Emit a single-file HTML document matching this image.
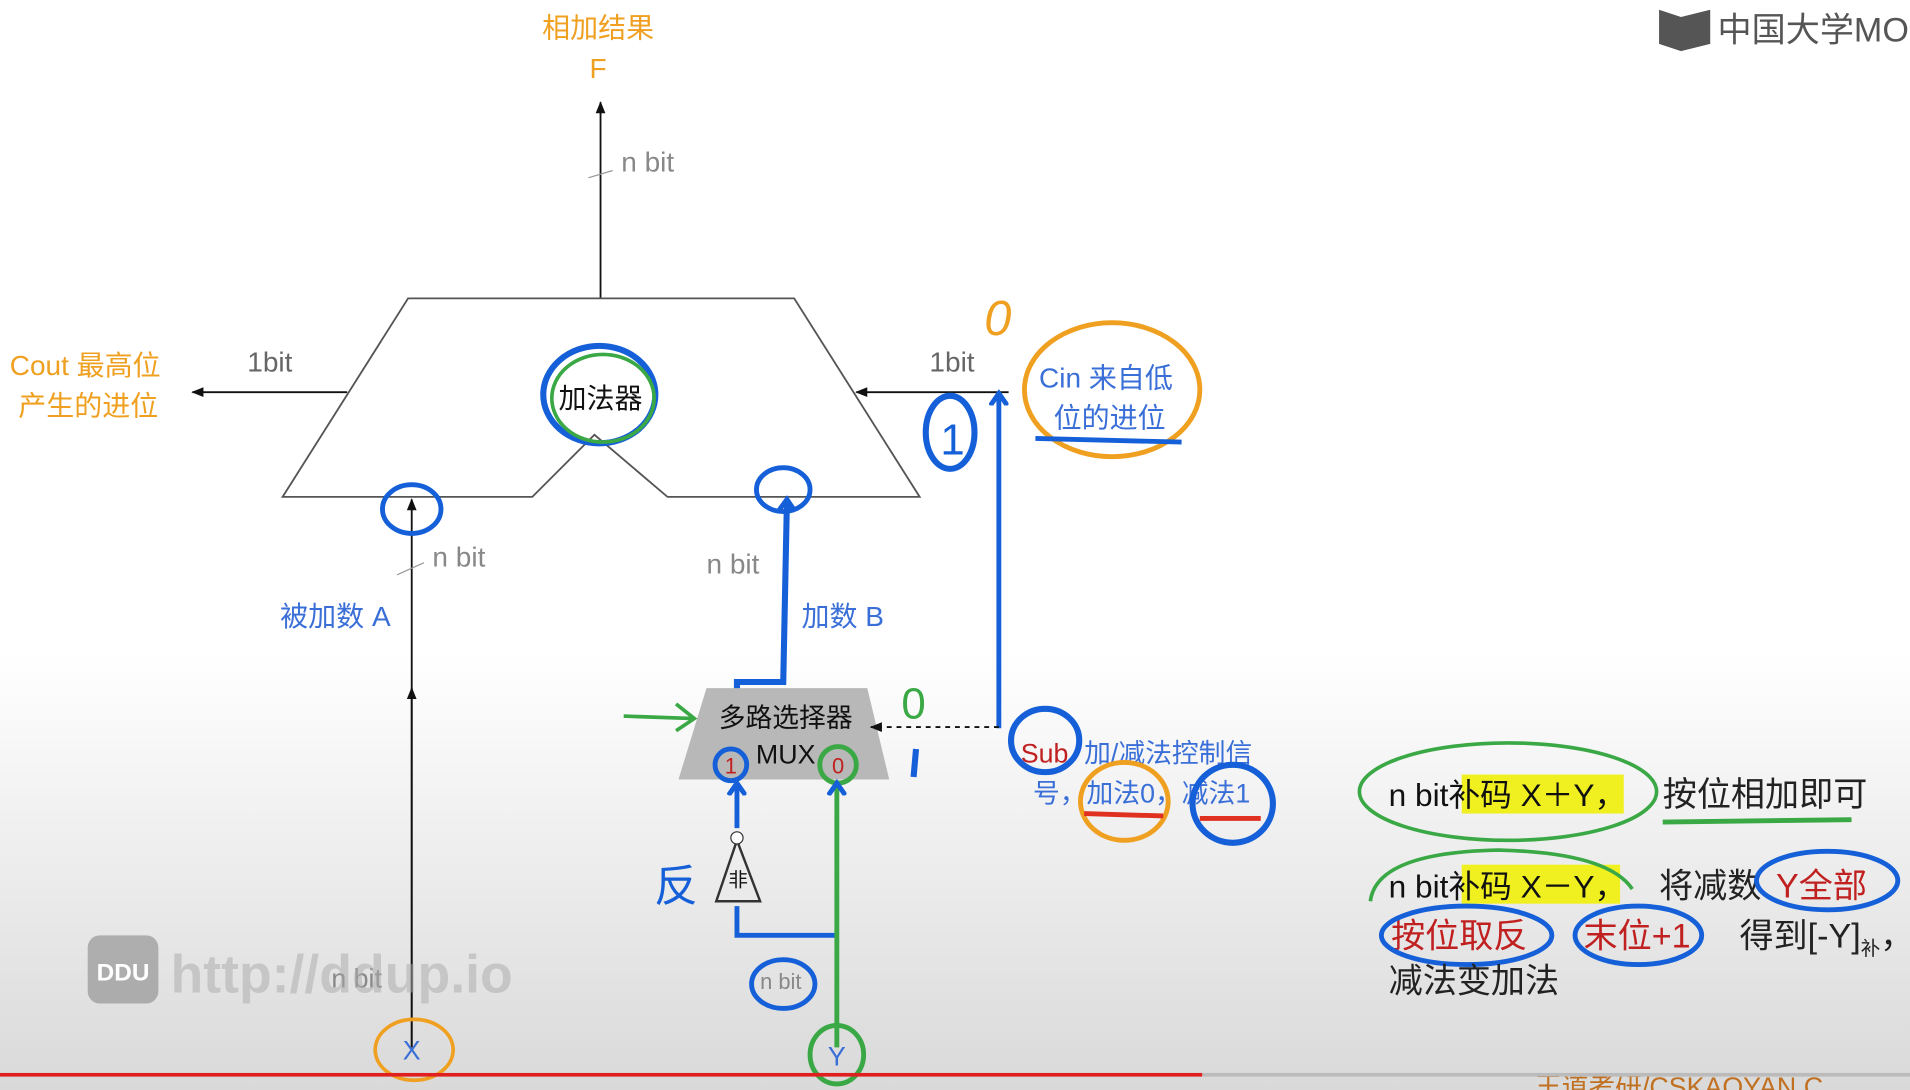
<!DOCTYPE html>
<html><head><meta charset="utf-8"><style>
html,body{margin:0;padding:0;width:1910px;height:1090px;overflow:hidden;background:#fff}
svg{display:block}
text{font-family:"Liberation Sans","Noto Sans CJK SC",sans-serif}
</style></head><body>
<svg width="1910" height="1090" viewBox="0 0 1568 895" preserveAspectRatio="none">
<defs>
<linearGradient id="bg" x1="0" y1="0" x2="0" y2="1">
<stop offset="0" stop-color="#fff"/><stop offset="0.6" stop-color="#fff"/><stop offset="0.8" stop-color="#ececec"/><stop offset="1" stop-color="#d9d9d9"/></linearGradient>
<marker id="ah" markerWidth="10" markerHeight="10" refX="9" refY="5" orient="auto" markerUnits="userSpaceOnUse"><path d="M0,1 L10,5 L0,9 Z" fill="#111"/></marker>
<marker id="ab" markerWidth="16" markerHeight="16" refX="8" refY="8" orient="auto" markerUnits="userSpaceOnUse"><path d="M0,1 L10,8 L0,15" fill="none" stroke="#1560d8" stroke-width="4"/></marker>
</defs>
<rect width="1568" height="895" fill="url(#bg)"/>
<!-- logo -->
<path d="M1362,8 L1380,14 L1404,8 L1404,36 L1380,42 L1362,36 Z" fill="#555"/>
<text x="1410" y="34" font-size="28" fill="#555">中国大学MO</text>
<!-- top -->
<text x="491" y="31" font-size="23" fill="#f0a020" text-anchor="middle">相加结果</text>
<text x="491" y="64" font-size="23" fill="#f0a020" text-anchor="middle">F</text>
<line x1="493" y1="245" x2="493" y2="84" stroke="#111" stroke-width="1.5" marker-end="url(#ah)"/>
<line x1="483" y1="146" x2="503" y2="140" stroke="#999"/>
<text x="510" y="141" font-size="23" fill="#888">n bit</text>
<!-- adder -->
<polygon points="335,245 652,245 755,408 548,408 488,357 437,408 232,408" fill="none" stroke="#555" stroke-width="1.5"/>
<text x="493" y="335" font-size="23" fill="#111" text-anchor="middle">加法器</text>
<ellipse cx="492" cy="324" rx="46" ry="40" fill="none" stroke="#1560d8" stroke-width="5"/>
<ellipse cx="495" cy="327" rx="42" ry="36" fill="none" stroke="#3aa845" stroke-width="3"/>
<!-- cout -->
<line x1="285" y1="322" x2="158" y2="322" stroke="#111" stroke-width="1.5" marker-end="url(#ah)"/>
<text x="203" y="305" font-size="23" fill="#666">1bit</text>
<text x="8" y="308" font-size="23" fill="#f0a020">Cout 最高位</text>
<text x="15" y="341" font-size="23" fill="#f0a020">产生的进位</text>
<!-- cin -->
<line x1="828" y1="322" x2="703" y2="322" stroke="#111" stroke-width="1.5" marker-end="url(#ah)"/>
<text x="763" y="305" font-size="23" fill="#666">1bit</text>
<text x="853" y="318" font-size="23" fill="#3a6fd8">Cin 来自低</text>
<text x="865" y="351" font-size="23" fill="#3a6fd8">位的进位</text>
<ellipse cx="913" cy="320" rx="72" ry="55" fill="none" stroke="#f0a020" stroke-width="4"/>
<line x1="850" y1="360" x2="970" y2="363" stroke="#1560d8" stroke-width="4"/>
<text x="808" y="275" font-size="40" fill="#f0a020" font-style="italic">0</text>
<ellipse cx="780" cy="355" rx="20" ry="30" fill="none" stroke="#1560d8" stroke-width="5"/>
<text x="772" y="373" font-size="36" fill="#1560d8">1</text>
<line x1="820" y1="598" x2="820" y2="325" stroke="#1560d8" stroke-width="4" marker-end="url(#ab)"/>
<!-- A -->
<line x1="338" y1="860" x2="338" y2="410" stroke="#111" stroke-width="1.5" marker-end="url(#ah)"/>
<line x1="338" y1="860" x2="338" y2="565" stroke="#111" stroke-width="1.5" marker-end="url(#ah)"/>
<ellipse cx="338" cy="418" rx="24" ry="20" fill="none" stroke="#1560d8" stroke-width="4"/>
<line x1="326" y1="472" x2="348" y2="462" stroke="#999"/>
<text x="355" y="465" font-size="23" fill="#888">n bit</text>
<text x="230" y="514" font-size="23" fill="#3a6fd8">被加数 A</text>
<text x="272" y="811" font-size="22" fill="#888">n bit</text>
<ellipse cx="340" cy="862" rx="32" ry="25" fill="none" stroke="#f0a020" stroke-width="3"/>
<text x="338" y="870" font-size="22" fill="#3a6fd8" text-anchor="middle">X</text>
<!-- B -->
<polyline points="605,612 605,560 643,560 646,412" fill="none" stroke="#1560d8" stroke-width="5" marker-end="url(#ab)"/>
<ellipse cx="643" cy="402" rx="22" ry="18" fill="none" stroke="#1560d8" stroke-width="4"/>
<text x="580" y="471" font-size="23" fill="#888">n bit</text>
<text x="658" y="514" font-size="23" fill="#3a6fd8">加数 B</text>
<!-- MUX -->
<polygon points="580,565 712,565 730,640 557,640" fill="#b8b8b8"/>
<text x="645" y="597" font-size="22" fill="#111" text-anchor="middle">多路选择器</text>
<text x="645" y="627" font-size="22" fill="#111" text-anchor="middle">MUX</text>
<circle cx="600" cy="628" r="13" fill="none" stroke="#1560d8" stroke-width="4"/>
<text x="600" y="635" font-size="18" fill="#c02020" text-anchor="middle">1</text>
<circle cx="688" cy="628" r="15" fill="none" stroke="#3aa845" stroke-width="4"/>
<text x="688" y="635" font-size="18" fill="#c02020" text-anchor="middle">0</text>
<line x1="512" y1="588" x2="570" y2="590" stroke="#3aa845" stroke-width="3"/>
<path d="M555,578 L570,590 L555,600" fill="none" stroke="#3aa845" stroke-width="3"/>
<line x1="820" y1="597" x2="715" y2="597" stroke="#111" stroke-width="1.5" stroke-dasharray="4,4" marker-end="url(#ah)"/>
<text x="740" y="590" font-size="36" fill="#3aa845">0</text>
<line x1="752" y1="615" x2="750" y2="638" stroke="#1560d8" stroke-width="5"/>
<!-- sub -->
<ellipse cx="858" cy="608" rx="28" ry="26" fill="none" stroke="#1560d8" stroke-width="5"/>
<text x="838" y="626" font-size="22" fill="#c02020">Sub</text>
<text x="890" y="626" font-size="22" fill="#3a6fd8">加/减法控制信</text>
<text x="848" y="659" font-size="22" fill="#3a6fd8">号，加法0，减法1</text>
<ellipse cx="923" cy="658" rx="36" ry="32" fill="none" stroke="#f0a020" stroke-width="4"/>
<ellipse cx="1012" cy="660" rx="33" ry="32" fill="none" stroke="#1560d8" stroke-width="5"/>
<line x1="890" y1="668" x2="955" y2="670" stroke="#e03020" stroke-width="4"/>
<line x1="985" y1="672" x2="1035" y2="672" stroke="#e03020" stroke-width="4"/>
<!-- NOT and Y -->
<polygon points="605,690 588,740 624,740" fill="none" stroke="#333" stroke-width="2"/>
<circle cx="605" cy="688" r="5" fill="#fff" stroke="#333"/>
<text x="606" y="728" font-size="16" fill="#111" text-anchor="middle">非</text>
<polyline points="687,768 605,768 605,744" fill="none" stroke="#1560d8" stroke-width="4"/>
<line x1="605" y1="680" x2="605" y2="645" stroke="#1560d8" stroke-width="4" marker-end="url(#ab)"/>
<line x1="687" y1="860" x2="687" y2="645" stroke="#3aa845" stroke-width="4" marker-end="url(#ab)"/>
<text x="537" y="740" font-size="36" fill="#1560d8">反</text>
<ellipse cx="643" cy="808" rx="26" ry="20" fill="none" stroke="#1560d8" stroke-width="4"/>
<text x="624" y="812" font-size="18" fill="#888">n bit</text>
<ellipse cx="687" cy="866" rx="22" ry="24" fill="none" stroke="#3aa845" stroke-width="4"/>
<text x="687" y="875" font-size="22" fill="#3a6fd8" text-anchor="middle">Y</text>
<!-- watermark -->
<rect x="72" y="768" width="58" height="56" rx="10" fill="#888" opacity="0.6"/>
<text x="101" y="805" font-size="20" fill="#fff" text-anchor="middle" font-weight="bold">DDU</text>
<text x="140" y="815" font-size="44" fill="#aaa" opacity="0.5" font-weight="bold">http://ddup.io</text>
<!-- right notes -->
<rect x="1200" y="636" width="133" height="32" fill="#f0f020"/>
<text x="1140" y="662" font-size="26" fill="#111">n bit补码 X＋Y，</text>
<text x="1365" y="662" font-size="28" fill="#222" font-family="Noto Serif CJK SC, serif">按位相加即可</text>
<ellipse cx="1238" cy="650" rx="122" ry="40" fill="none" stroke="#3aa845" stroke-width="3"/>
<line x1="1365" y1="675" x2="1520" y2="673" stroke="#3aa845" stroke-width="4"/>
<rect x="1200" y="710" width="130" height="32" fill="#f0f020"/>
<text x="1140" y="737" font-size="26" fill="#111">n bit补码 X－Y，</text>
<text x="1362" y="737" font-size="28" fill="#222" font-family="Noto Serif CJK SC, serif">将减数</text>
<text x="1458" y="737" font-size="28" fill="#c02020" font-family="Noto Serif CJK SC, serif">Y全部</text>
<ellipse cx="1500" cy="723" rx="58" ry="24" fill="none" stroke="#1560d8" stroke-width="4"/>
<path d="M1125,740 Q1130,700 1230,698 Q1320,700 1340,730" fill="none" stroke="#3aa845" stroke-width="3"/>
<text x="1142" y="778" font-size="28" fill="#c02020" font-family="Noto Serif CJK SC, serif">按位取反</text>
<ellipse cx="1204" cy="768" rx="70" ry="24" fill="none" stroke="#1560d8" stroke-width="4"/>
<text x="1300" y="778" font-size="28" fill="#c02020" font-family="Noto Serif CJK SC, serif">末位+1</text>
<ellipse cx="1345" cy="768" rx="52" ry="24" fill="none" stroke="#1560d8" stroke-width="4"/>
<text x="1428" y="778" font-size="28" fill="#222" font-family="Noto Serif CJK SC, serif">得到[-Y]<tspan font-size="16" dy="6">补</tspan><tspan dy="-6">，</tspan></text>
<text x="1140" y="815" font-size="28" fill="#222" font-family="Noto Serif CJK SC, serif">减法变加法</text>
<text x="1260" y="900" font-size="22" fill="#c07020">王道考研/CSKAOYAN.C</text>
<!-- red bar -->
<rect x="0" y="881" width="987" height="3" fill="#e02020"/>
<rect x="987" y="881" width="581" height="3" fill="#bbb"/>
</svg>
</body></html>
